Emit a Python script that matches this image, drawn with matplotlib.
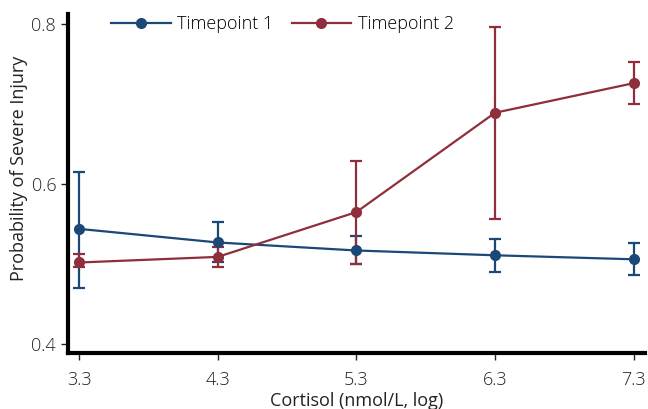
import numpy as np
import matplotlib
matplotlib.use("Agg")
import matplotlib.pyplot as plt
from matplotlib.lines import Line2D

plt.rcParams['font.family'] = ['Open Sans', 'DejaVu Sans']
plt.rcParams['font.weight'] = 'light'

# data
cortisol = [3.3, 4.3, 5.3, 6.3, 7.3]
tp1 = [0.544, 0.527, 0.517, 0.511, 0.506]
tp1_lo = [0.470, 0.503, 0.500, 0.490, 0.486]
tp1_hi = [0.615, 0.552, 0.535, 0.531, 0.526]
tp2 = [0.502, 0.509, 0.565, 0.689, 0.726]
tp2_lo = [0.497, 0.497, 0.500, 0.556, 0.700]
tp2_hi = [0.513, 0.521, 0.629, 0.796, 0.752]

blue = '#1b4877'
red = '#8e2f3b'

fig = plt.figure(figsize=(6.48, 4.09), dpi=100)
ax = fig.add_axes([0.105, 0.137, 0.89, 0.829])

def draw(y, lo, hi, c):
    y = np.array(y)
    err = [y - np.array(lo), np.array(hi) - y]
    ax.errorbar(cortisol, y, yerr=err, color=c, marker='o', ms=7, lw=1.6,
                capsize=4, capthick=1.6, elinewidth=1.6)

draw(tp1, tp1_lo, tp1_hi, blue)
draw(tp2, tp2_lo, tp2_hi, red)

ax.set_xlim(3.22, 7.38)
ax.set_ylim(0.389, 0.8125)
ax.set_xticks(cortisol)
ax.set_xticklabels([str(c) for c in cortisol])
ax.set_yticks([0.4, 0.6, 0.8])
ax.tick_params(labelsize=13, length=5, width=1, colors='#222222')
ax.tick_params(axis='x', pad=8)
for s in ['top', 'right']:
    ax.spines[s].set_visible(False)
for s in ['left', 'bottom']:
    ax.spines[s].set_linewidth(3)
ax.set_ylabel('Probability of Severe Injury', fontsize=13, color='#222222')
ax.yaxis.set_label_coords(-0.07, 0.545)
ax.set_xlabel('Cortisol (nmol/L, log)', fontsize=13, color='#222222', labelpad=2)

handles = [Line2D([], [], color=blue, marker='o', ms=7, lw=1.6),
           Line2D([], [], color=red, marker='o', ms=7, lw=1.6)]
ax.legend(handles, ['Timepoint 1', 'Timepoint 2'], loc='upper left',
          bbox_to_anchor=(0.047, 1.045), ncol=2, frameon=False,
          fontsize=13, handlelength=3.3, handletextpad=0.35, columnspacing=1.0)

fig.savefig('out.png', dpi=100)
